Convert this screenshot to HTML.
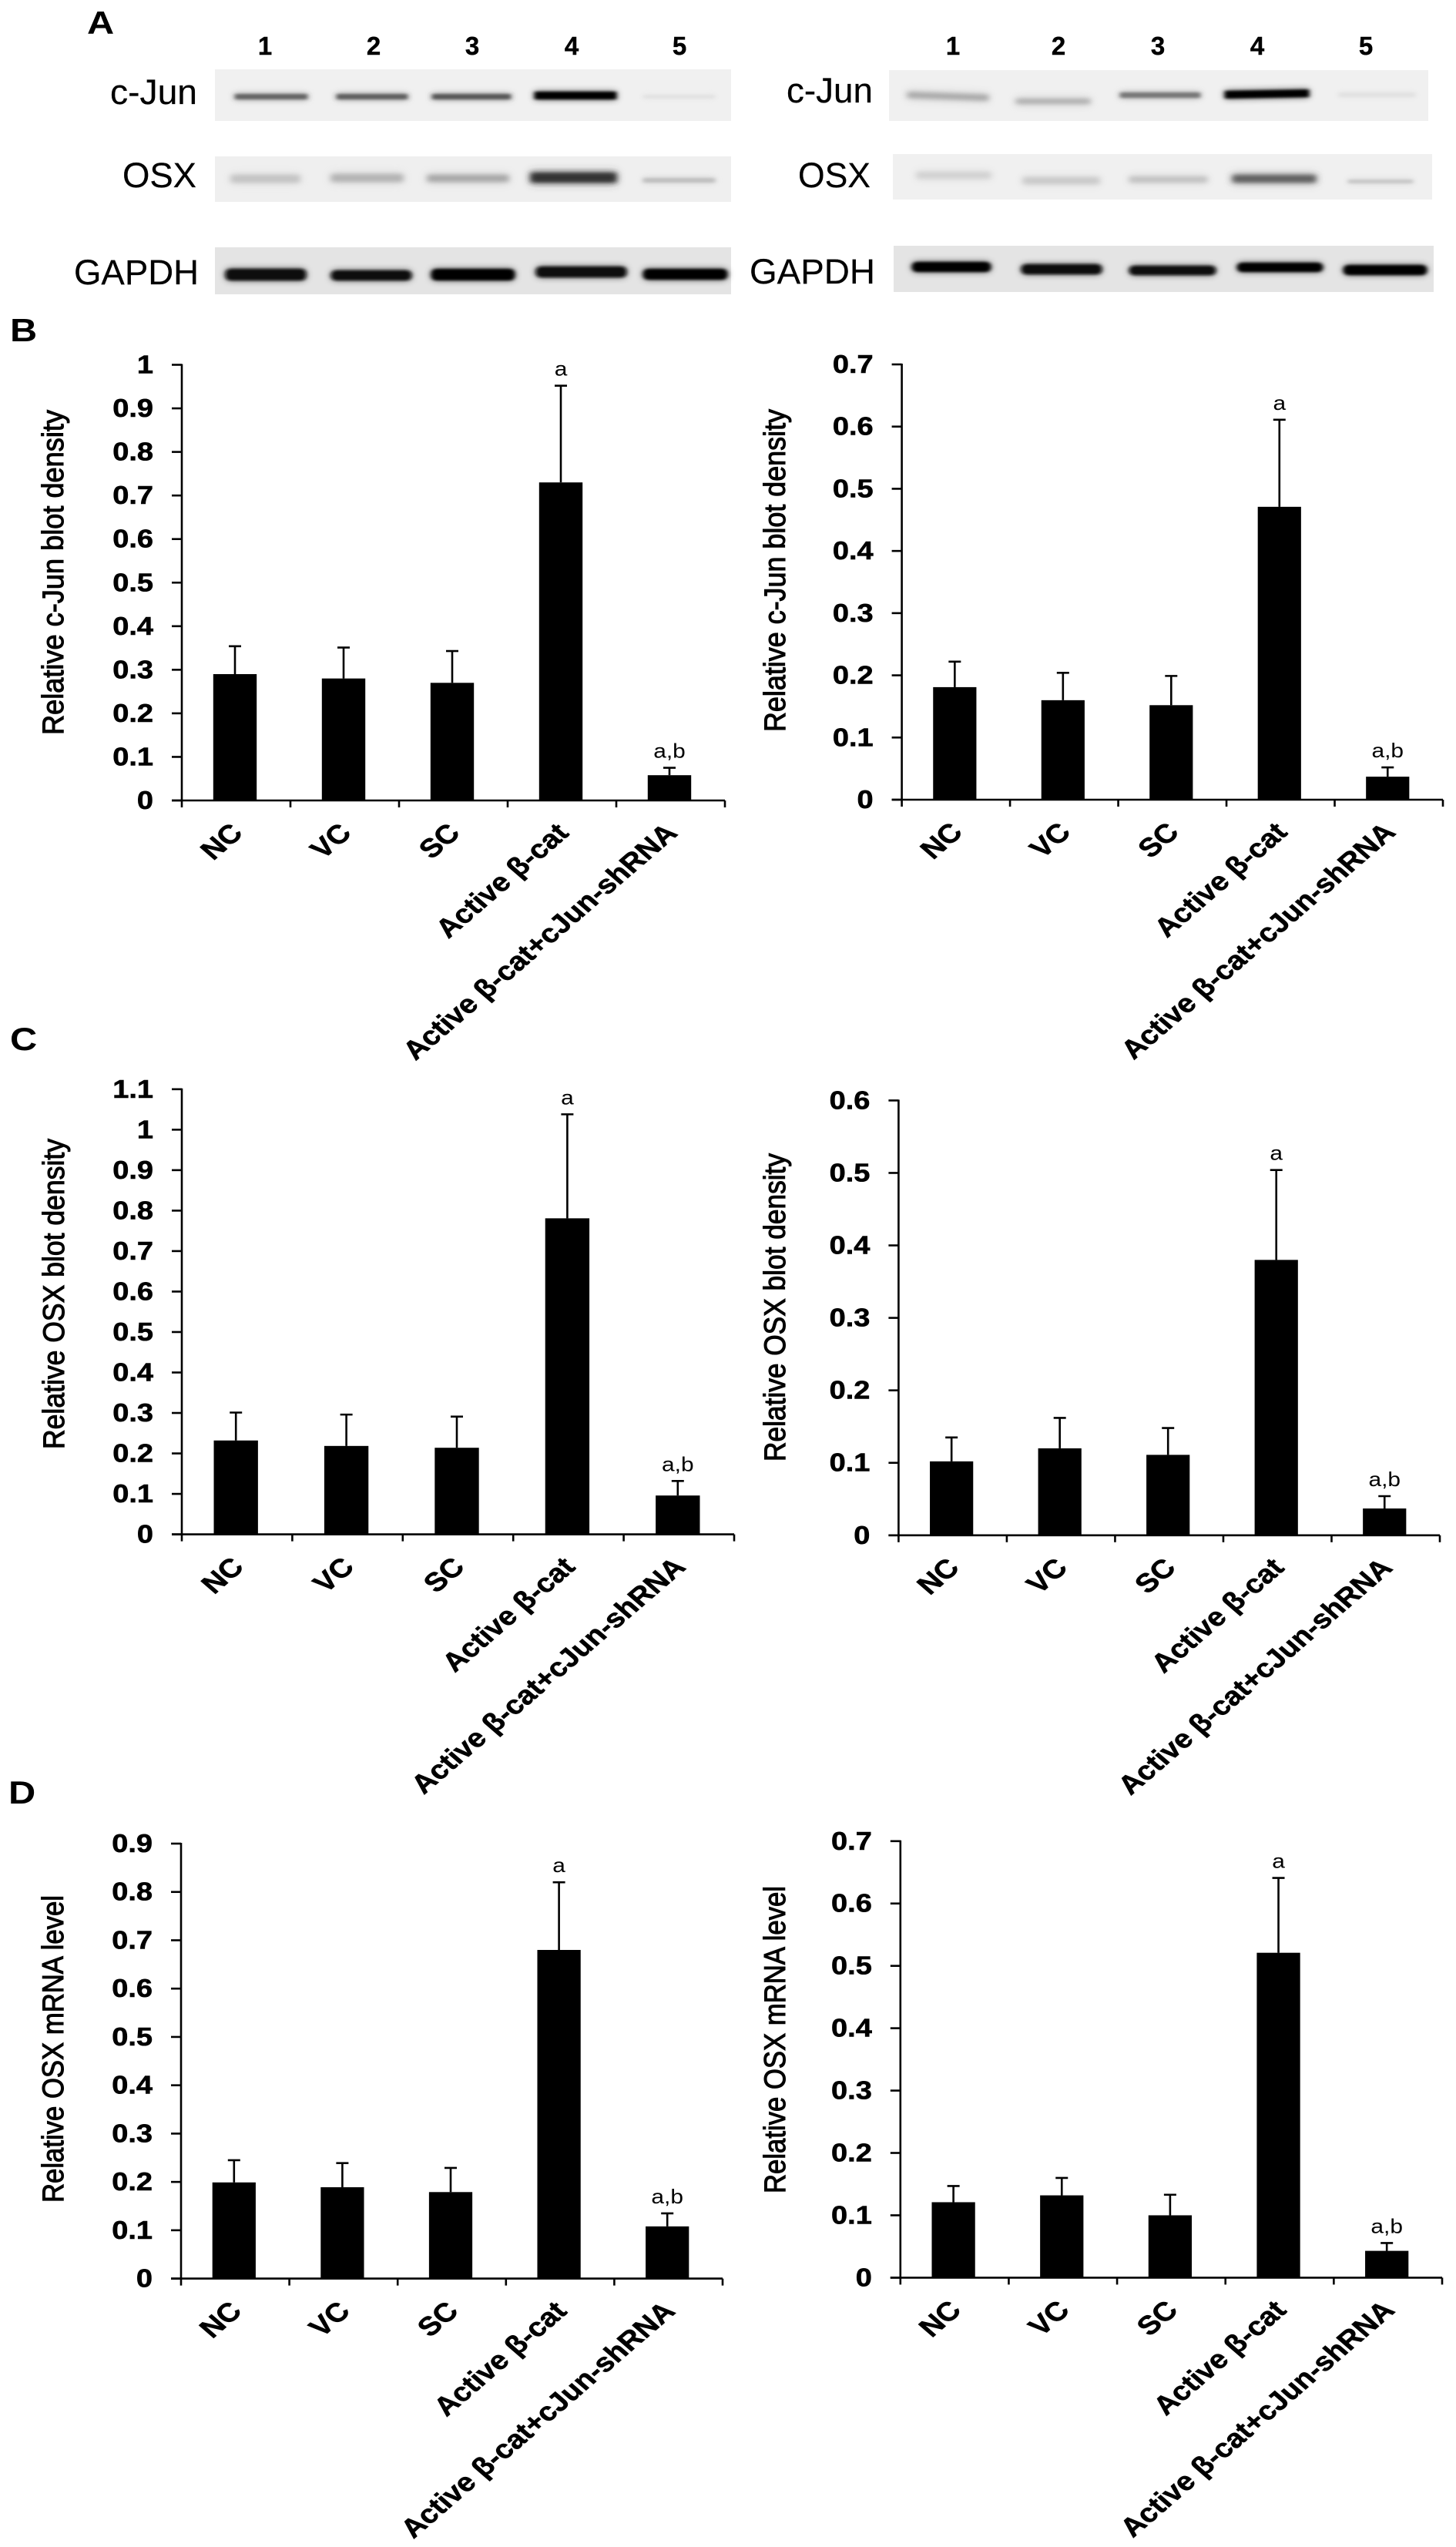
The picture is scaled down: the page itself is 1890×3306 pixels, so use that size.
<!DOCTYPE html>
<html lang="en">
<head>
<meta charset="utf-8">
<title>c-Jun and OSX western blots and bar charts</title>
<style>
html,body{margin:0;padding:0;background:#fff;}
svg{display:block;}
text{font-family:"Liberation Sans",Arial,sans-serif;fill:#000;}
.panel{font-weight:bold;font-size:42px;}
.lane{font-weight:bold;font-size:33px;text-anchor:middle;stroke:#000;stroke-width:.4px;}
.blotlabel{font-size:45px;stroke:#000;stroke-width:.2px;}
</style>
</head>
<body>
<svg id="figure" xmlns="http://www.w3.org/2000/svg" width="1890" height="3306" viewBox="0 0 1890 3306">
<defs>
<filter id="b1" x="-20%" y="-300%" width="140%" height="700%">
<feGaussianBlur in="SourceGraphic" stdDeviation="3 1.6" result="core"/>
<feGaussianBlur in="SourceGraphic" stdDeviation="5 4.5" result="wide"/>
<feComponentTransfer in="wide" result="halo"><feFuncA type="linear" slope="0.65"/></feComponentTransfer>
<feMerge><feMergeNode in="halo"/><feMergeNode in="core"/></feMerge>
</filter>
<filter id="b2" x="-20%" y="-300%" width="140%" height="700%">
<feGaussianBlur in="SourceGraphic" stdDeviation="4 2.6" result="core"/>
<feGaussianBlur in="SourceGraphic" stdDeviation="6 6" result="wide"/>
<feComponentTransfer in="wide" result="halo"><feFuncA type="linear" slope="0.6"/></feComponentTransfer>
<feMerge><feMergeNode in="halo"/><feMergeNode in="core"/></feMerge>
</filter>
</defs>
<rect width="1890" height="3306" fill="#fff"/>
<text class="panel" transform="translate(113,44) scale(1.16,1)">A</text>
<text class="panel" transform="translate(13,443) scale(1.16,1)">B</text>
<text class="panel" transform="translate(13,1363) scale(1.16,1)">C</text>
<text class="panel" transform="translate(11,2341) scale(1.16,1)">D</text>

<g>
<text class="lane" x="344" y="71">1</text>
<text class="lane" x="485" y="71">2</text>
<text class="lane" x="613" y="71">3</text>
<text class="lane" x="742" y="71">4</text>
<text class="lane" x="882" y="71">5</text>
</g>
<g>
<text class="lane" x="1237" y="71">1</text>
<text class="lane" x="1374" y="71">2</text>
<text class="lane" x="1503" y="71">3</text>
<text class="lane" x="1632" y="71">4</text>
<text class="lane" x="1773" y="71">5</text>
</g>

<text class="blotlabel" x="143" y="135" textLength="113" lengthAdjust="spacingAndGlyphs">c-Jun</text>
<text class="blotlabel" x="159" y="243" textLength="96" lengthAdjust="spacingAndGlyphs">OSX</text>
<text class="blotlabel" x="96" y="369" textLength="162" lengthAdjust="spacingAndGlyphs">GAPDH</text>
<text class="blotlabel" x="1021" y="133" textLength="112" lengthAdjust="spacingAndGlyphs">c-Jun</text>
<text class="blotlabel" x="1036" y="243" textLength="94" lengthAdjust="spacingAndGlyphs">OSX</text>
<text class="blotlabel" x="973" y="368" textLength="163" lengthAdjust="spacingAndGlyphs">GAPDH</text>

<g>
<rect x="279" y="90" width="670" height="67" fill="#f0f0f0"/>
<rect x="305" y="122" width="94" height="7" fill="#666" filter="url(#b1)"/>
<rect x="437" y="122" width="92" height="7" fill="#606060" filter="url(#b1)"/>
<rect x="561" y="122" width="102" height="7" fill="#585858" filter="url(#b1)"/>
<rect x="694" y="119" width="106" height="10" fill="#000" filter="url(#b1)"/>
<rect x="835" y="123" width="93" height="5" fill="#e2e2e2" filter="url(#b1)"/>
</g>
<g>
<rect x="279" y="203" width="670" height="59" fill="#efefef"/>
<rect x="300" y="227" width="89" height="10" fill="#c4c4c4" filter="url(#b2)"/>
<rect x="430" y="226" width="93" height="10" fill="#b4b4b4" filter="url(#b2)"/>
<rect x="555" y="227" width="105" height="9" fill="#a8a8a8" filter="url(#b2)"/>
<rect x="689" y="224" width="111" height="13" fill="#303030" filter="url(#b2)"/>
<rect x="835" y="231" width="93" height="6" fill="#c0c0c0" filter="url(#b1)"/>
</g>
<g>
<rect x="279" y="321" width="670" height="61" fill="#e4e4e4"/>
<rect x="293" y="349" width="104" height="15" rx="6" fill="#0a0a0a" filter="url(#b1)"/>
<rect x="430" y="351" width="104" height="13" rx="6" fill="#0a0a0a" filter="url(#b1)"/>
<rect x="560" y="349" width="108" height="15" rx="6" fill="#050505" filter="url(#b1)"/>
<rect x="696" y="346" width="117" height="14" rx="6" fill="#0a0a0a" filter="url(#b1)"/>
<rect x="835" y="349" width="109" height="14" rx="6" fill="#000" filter="url(#b1)"/>
</g>
<g>
<rect x="1154" y="91" width="700" height="66" fill="#f0f0f0"/>
<rect x="1178" y="121" width="105" height="8" fill="#aaa" filter="url(#b2)" transform="rotate(2 1230 125)"/>
<rect x="1319" y="128" width="96" height="7" fill="#b0b0b0" filter="url(#b2)"/>
<rect x="1454" y="120" width="104" height="7" fill="#787878" filter="url(#b1)"/>
<rect x="1590" y="117" width="109" height="10" fill="#050505" filter="url(#b1)" transform="rotate(-1 1645 122)"/>
<rect x="1738" y="120" width="99" height="6" fill="#e2e2e2" filter="url(#b1)"/>
</g>
<g>
<rect x="1159" y="200" width="700" height="59" fill="#f0f0f0"/>
<rect x="1190" y="223" width="96" height="9" fill="#d2d2d2" filter="url(#b2)"/>
<rect x="1328" y="230" width="99" height="9" fill="#cacaca" filter="url(#b2)"/>
<rect x="1466" y="229" width="101" height="8" fill="#c2c2c2" filter="url(#b2)"/>
<rect x="1600" y="227" width="108" height="10" fill="#606060" filter="url(#b2)"/>
<rect x="1750" y="233" width="84" height="5" fill="#c8c8c8" filter="url(#b1)"/>
</g>
<g>
<rect x="1160" y="319" width="701" height="60" fill="#e4e4e4"/>
<rect x="1184" y="340" width="102" height="13" rx="6" fill="#050505" filter="url(#b1)"/>
<rect x="1326" y="343" width="104" height="13" rx="6" fill="#0a0a0a" filter="url(#b1)"/>
<rect x="1466" y="345" width="112" height="12" rx="6" fill="#0a0a0a" filter="url(#b1)"/>
<rect x="1606" y="341" width="111" height="12" rx="6" fill="#050505" filter="url(#b1)"/>
<rect x="1744" y="344" width="108" height="13" rx="6" fill="#000" filter="url(#b1)"/>
</g>
<g id="charts"></g>
</svg>

<script>
// Shared category labels and significance marks
const categories = ["NC", "VC", "SC", "Active β-cat", "Active β-cat+cJun-shRNA"];
const sigLabels = ["", "", "", "a", "a,b"];

// Panel B left
const bLeftTicks = ["0", "0.1", "0.2", "0.3", "0.4", "0.5", "0.6", "0.7", "0.8", "0.9", "1"];
const bLeftMeans = [0.29, 0.28, 0.27, 0.73, 0.058];
const bLeftUpper = [0.354, 0.351, 0.343, 0.952, 0.075];
// Panel B right
const bRightTicks = ["0", "0.1", "0.2", "0.3", "0.4", "0.5", "0.6", "0.7"];
const bRightMeans = [0.181, 0.16, 0.152, 0.471, 0.037];
const bRightUpper = [0.222, 0.204, 0.199, 0.611, 0.052];
// Panel C left
const cLeftTicks = ["0", "0.1", "0.2", "0.3", "0.4", "0.5", "0.6", "0.7", "0.8", "0.9", "1", "1.1"];
const cLeftMeans = [0.232, 0.2185, 0.214, 0.781, 0.096];
const cLeftUpper = [0.301, 0.296, 0.291, 1.038, 0.132];
// Panel C right
const cRightTicks = ["0", "0.1", "0.2", "0.3", "0.4", "0.5", "0.6"];
const cRightMeans = [0.102, 0.12, 0.111, 0.38, 0.037];
const cRightUpper = [0.135, 0.162, 0.148, 0.504, 0.054];
// Panel D left
const dLeftTicks = ["0", "0.1", "0.2", "0.3", "0.4", "0.5", "0.6", "0.7", "0.8", "0.9"];
const dLeftMeans = [0.199, 0.189, 0.179, 0.68, 0.108];
const dLeftUpper = [0.245, 0.239, 0.229, 0.82, 0.135];
// Panel D right
const dRightTicks = ["0", "0.1", "0.2", "0.3", "0.4", "0.5", "0.6", "0.7"];
const dRightMeans = [0.121, 0.132, 0.1, 0.521, 0.043];
const dRightUpper = [0.147, 0.16, 0.133, 0.641, 0.0555];

const NS = "http://www.w3.org/2000/svg";
const chartsRoot = document.getElementById("charts");

function make(parent, tag, attrs, text) {
  const node = document.createElementNS(NS, tag);
  for (const k in attrs) node.setAttribute(k, attrs[k]);
  if (text !== undefined) node.textContent = text;
  parent.appendChild(node);
  return node;
}

function drawChart(cfg) {
  const g = make(chartsRoot, "g", {});
  
  

  const domainMax = Math.max.apply(null, cfg.ticks.map(Number));
  const y = function (v) { return cfg.bottom - (v / domainMax) * (cfg.bottom - cfg.top); };
  const band = (cfg.right - cfg.left) / categories.length;
  const xCenter = function (i) { return cfg.left + band * (i + 0.5) - 1.5; };
  const barWidth = band * 0.4;

  // y axis title
  const title = make(g, "text", {
    transform: "translate(" + cfg.titleX + "," + cfg.titleY + ") scale(1.18,1) rotate(-90)",
    "font-size": 33, stroke: "#000", "stroke-width": 0.9,
    textLength: cfg.titleLen, lengthAdjust: "spacingAndGlyphs"
  }, cfg.title);
  
  

  // y ticks + labels
  cfg.ticks.forEach(function (t) {
    const v = Number(t);
    const tick = make(g, "line", { x1: cfg.left - 13, x2: cfg.left, y1: y(v), y2: y(v), stroke: "#000", "stroke-width": 2.6 });
    
    
    const lab = make(g, "text", {
      transform: "translate(" + (cfg.left - 37) + "," + (y(v) + 11) + ") scale(1.15,1)",
      "font-size": 33, "font-weight": "bold", "text-anchor": "end", stroke: "#000", "stroke-width": 0.6
    }, t);
    
    
  });

  // bars, error bars, annotations, category labels
  categories.forEach(function (c, i) {
    const cx = xCenter(i);
    const stem = make(g, "line", { x1: cx, x2: cx, y1: y(cfg.upper[i]), y2: y(cfg.means[i]), stroke: "#000", "stroke-width": 2.6 });
    
    
    const cap = make(g, "line", { x1: cx - 8, x2: cx + 8, y1: y(cfg.upper[i]), y2: y(cfg.upper[i]), stroke: "#000", "stroke-width": 2.6 });
    
    
    const bar = make(g, "rect", { x: cx - barWidth / 2, y: y(cfg.means[i]), width: barWidth, height: cfg.bottom - y(cfg.means[i]), fill: "#000" });
    
    
    if (sigLabels[i]) {
      const sig = make(g, "text", {
        transform: "translate(" + cx + "," + (y(cfg.upper[i]) - 13) + ") scale(1.15,1)",
        "font-size": 26, "text-anchor": "middle"
      }, sigLabels[i]);
      
      
    }
    const cat = make(g, "text", {
      transform: "translate(" + (cx + 12) + "," + (cfg.bottom + 44) + ") scale(1.16,1) rotate(-45)",
      "font-size": 34, "font-weight": "bold", "text-anchor": "end", stroke: "#000", "stroke-width": 0.6
    }, c);
    
    
  });

  // x ticks
  for (let i = 0; i <= categories.length; i++) {
    const tx = cfg.left + band * i;
    const xt = make(g, "line", { x1: tx, x2: tx, y1: cfg.bottom, y2: cfg.bottom + 9, stroke: "#000", "stroke-width": 2.6 });
    
    
  }

  // axes
  const yAxis = make(g, "line", { x1: cfg.left, x2: cfg.left, y1: cfg.top - 1, y2: cfg.bottom, stroke: "#000", "stroke-width": 2.6 });
  
  
  const xAxis = make(g, "line", { x1: cfg.left - 13, x2: cfg.right, y1: cfg.bottom, y2: cfg.bottom, stroke: "#000", "stroke-width": 2.6 });
  
  
}

drawChart({ name: "chart-b-left", title: "Relative c-Jun blot density", ticks: bLeftTicks, means: bLeftMeans, upper: bLeftUpper,
  left: 236, right: 941, top: 473.5, bottom: 1039, titleX: 82, titleY: 954, titleLen: 422 });
drawChart({ name: "chart-b-right", title: "Relative c-Jun blot density", ticks: bRightTicks, means: bRightMeans, upper: bRightUpper,
  left: 1170.6, right: 1873, top: 473, bottom: 1038, titleX: 1019, titleY: 950, titleLen: 419 });
drawChart({ name: "chart-c-left", title: "Relative OSX blot density", ticks: cLeftTicks, means: cLeftMeans, upper: cLeftUpper,
  left: 236, right: 953, top: 1413.8, bottom: 1991.6, titleX: 83, titleY: 1881, titleLen: 403 });
drawChart({ name: "chart-c-right", title: "Relative OSX blot density", ticks: cRightTicks, means: cRightMeans, upper: cRightUpper,
  left: 1166.4, right: 1869, top: 1428.4, bottom: 1992.8, titleX: 1019, titleY: 1897, titleLen: 400 });
drawChart({ name: "chart-d-left", title: "Relative OSX mRNA level", ticks: dLeftTicks, means: dLeftMeans, upper: dLeftUpper,
  left: 235, right: 938, top: 2393, bottom: 2957.6, titleX: 82, titleY: 2859, titleLen: 399 });
drawChart({ name: "chart-d-right", title: "Relative OSX mRNA level", ticks: dRightTicks, means: dRightMeans, upper: dRightUpper,
  left: 1168.8, right: 1872, top: 2389.8, bottom: 2956.4, titleX: 1019, titleY: 2847, titleLen: 399 });
</script>
</body>
</html>
